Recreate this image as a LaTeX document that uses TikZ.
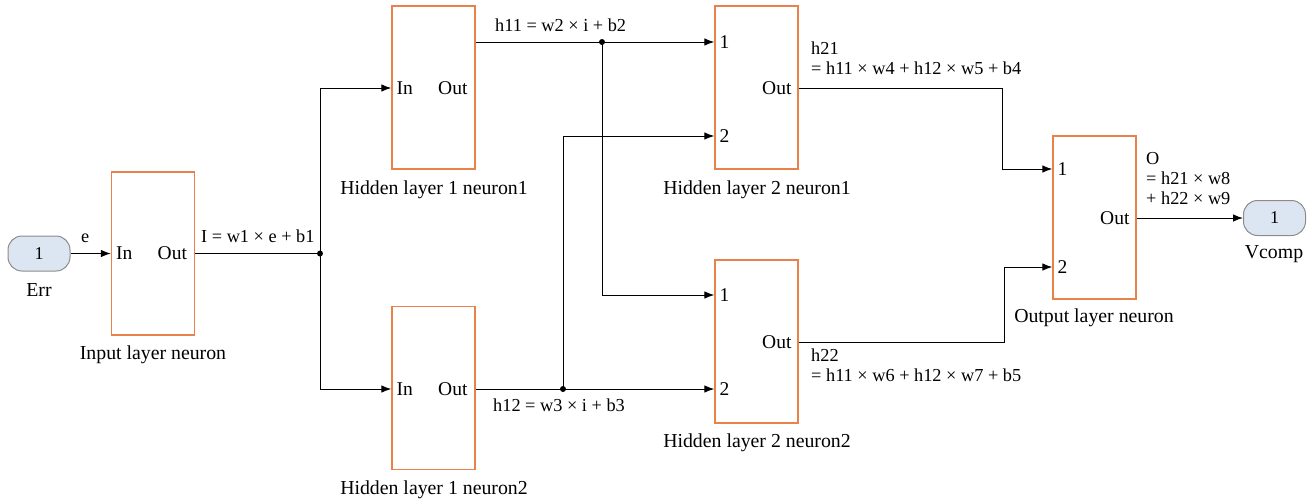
\documentclass[tikz,border=0pt]{standalone}
\usepackage{fontspec}
\setmainfont{Liberation Serif}
\usetikzlibrary{arrows.meta}
\definecolor{boxedge}{HTML}{E8824A}
\definecolor{portfill}{HTML}{DCE6F2}
\definecolor{portedge}{HTML}{8C8C8C}
\tikzset{
  neuron/.style={draw=boxedge, line width=1.3pt, minimum width=83pt, minimum height=163pt, inner sep=0pt},
  ioport/.style={draw=portedge, fill=portfill, line width=1pt, rounded corners=14pt, minimum width=62pt, minimum height=35pt, inner sep=0pt, font=\fontsize{18}{18}\selectfont},
  wire/.style={line width=1pt},
  arr/.style={wire, -{Latex[length=10pt,width=7.5pt]}},
  junction/.style={circle, fill=black, inner sep=0pt, minimum size=6pt},
  plbl/.style={font=\fontsize{19.5}{19.5}\selectfont, inner sep=0pt},
  blbl/.style={font=\fontsize{19.8}{19.8}\selectfont, inner sep=0pt},
  sig/.style={font=\fontsize{18.3}{18.3}\selectfont, inner sep=0pt, anchor=west},
}
\begin{document}
\begin{tikzpicture}[x=1pt,y=-1pt]
\useasboundingbox (0,0) rectangle (1310,501);

% in/out ports
\node[ioport] (err) at (39,253.5) {1};
\node[blbl] (errl) at (39,290) {Err};
\node[ioport] (vcomp) at (1274.5,218) {1};
\node[blbl] (vcompl) at (1274,254) {Vcomp};

% neurons
\node[neuron] (inp) at (153,253.5) {};
\node[neuron] (h1a) at (433.5,87.5) {};
\node[neuron] (h1b) at (433.5,388) {};
\node[neuron] (h2a) at (756.5,87.5) {};
\node[neuron] (h2b) at (756.5,341.5) {};
\node[neuron] (outn) at (1094.5,217.5) {};

% block captions
\node[blbl] (inpl) at (153,355) {Input layer neuron};
\node[blbl] (h1al) at (434,190) {Hidden layer 1 neuron1};
\node[blbl] (h1bl) at (434,490) {Hidden layer 1 neuron2};
\node[blbl] (h2al) at (757,190) {Hidden layer 2 neuron1};
\node[blbl] (h2bl) at (757,443) {Hidden layer 2 neuron2};
\node[blbl] (outl) at (1094,318) {Output layer neuron};

% port pins
\coordinate (inpIn) at (inp.west |- 0,253.5);
\coordinate (inpOut) at (inp.east |- 0,253.5);
\coordinate (h1aIn) at (h1a.west |- 0,88);
\coordinate (h1aOut) at (h1a.east |- 0,42);
\coordinate (h1bIn) at (h1b.west |- 0,389);
\coordinate (h1bOut) at (h1b.east |- 0,389);
\coordinate (h2aA) at (h2a.west |- 0,42);
\coordinate (h2aB) at (h2a.west |- 0,136);
\coordinate (h2aOut) at (h2a.east |- 0,88);
\coordinate (h2bA) at (h2b.west |- 0,295);
\coordinate (h2bB) at (h2b.west |- 0,389);
\coordinate (h2bOut) at (h2b.east |- 0,342);
\coordinate (outA) at (outn.west |- 0,169);
\coordinate (outB) at (outn.west |- 0,267);
\coordinate (outOut) at (outn.east |- 0,218);

% pin texts
\node[plbl, anchor=west] (t1) at ([xshift=5pt]inpIn) {In};
\node[plbl, anchor=east] (t2) at ([xshift=-8pt]inpOut) {Out};
\node[plbl, anchor=west] (t3) at ([xshift=5pt]h1aIn) {In};
\node[plbl, anchor=east] (t4) at ([xshift=-8pt]h1a.east |- 0,88) {Out};
\node[plbl, anchor=west] (t5) at ([xshift=5pt]h1bIn) {In};
\node[plbl, anchor=east] (t6) at ([xshift=-8pt]h1bOut) {Out};
\node[plbl, anchor=west] (t7) at ([xshift=5pt]h2aA) {1};
\node[plbl, anchor=west] (t8) at ([xshift=5pt]h2aB) {2};
\node[plbl, anchor=east] (t9) at ([xshift=-7pt]h2aOut) {Out};
\node[plbl, anchor=west] (t10) at ([xshift=5pt]h2bA) {1};
\node[plbl, anchor=west] (t11) at ([xshift=5pt]h2bB) {2};
\node[plbl, anchor=east] (t12) at ([xshift=-7pt]h2bOut) {Out};
\node[plbl, anchor=west] (t13) at ([xshift=5pt]outA) {1};
\node[plbl, anchor=west] (t14) at ([xshift=5pt]outB) {2};
\node[plbl, anchor=east] (t15) at ([xshift=-7pt]outOut) {Out};

% junctions
\node[junction] (j0) at (320,253.5) {};
\node[junction] (j1) at (602,42) {};
\node[junction] (j2) at (563,389) {};

% wires
\draw[arr] (j0.center) |- (h1aIn);
\draw[arr] (j0.center) |- (h1bIn);
\draw[arr] (err.east) -- (inpIn);
\draw[wire] (inpOut) -- (j0.center);
\draw[wire] (h1aOut) -- (j1.center);
\draw[arr] (j1.center) -- (h2aA);
\draw[arr] (j1.center) |- (h2bA);
\draw[wire] (h1bOut) -- (j2.center);
\draw[arr] (j2.center) -- (h2bB);
\draw[arr] (j2.center) |- (h2aB);
\draw[arr] (h2aOut) -| (1002,169) coordinate (ka) -- (outA);
\draw[arr] (h2bOut) -| (1004,267) coordinate (kb) -- (outB);
\draw[arr] (outOut) -- (vcomp.west);

% signal names
\node[sig] (se) at (81,238) {e};
\node[sig] (sI) at (201,236) {I = w1 × e + b1};
\node[sig] (s11) at (495,25) {h11 = w2 × i + b2};
\node[sig] (s12) at (493,405) {h12 = w3 × i + b3};
\node[sig] (s21a) at (811,48) {h21};
\node[sig] (s21b) at (811,68) {= h11 × w4 + h12 × w5 + b4};
\node[sig] (s22a) at (811,355) {h22};
\node[sig] (s22b) at (811,375) {= h11 × w6 + h12 × w7 + b5};
\node[sig] (soa) at (1146,159) {O};
\node[sig] (sob) at (1146,178) {= h21 × w8};
\node[sig] (soc) at (1146,198) {+ h22 × w9};
\end{tikzpicture}
\end{document}
